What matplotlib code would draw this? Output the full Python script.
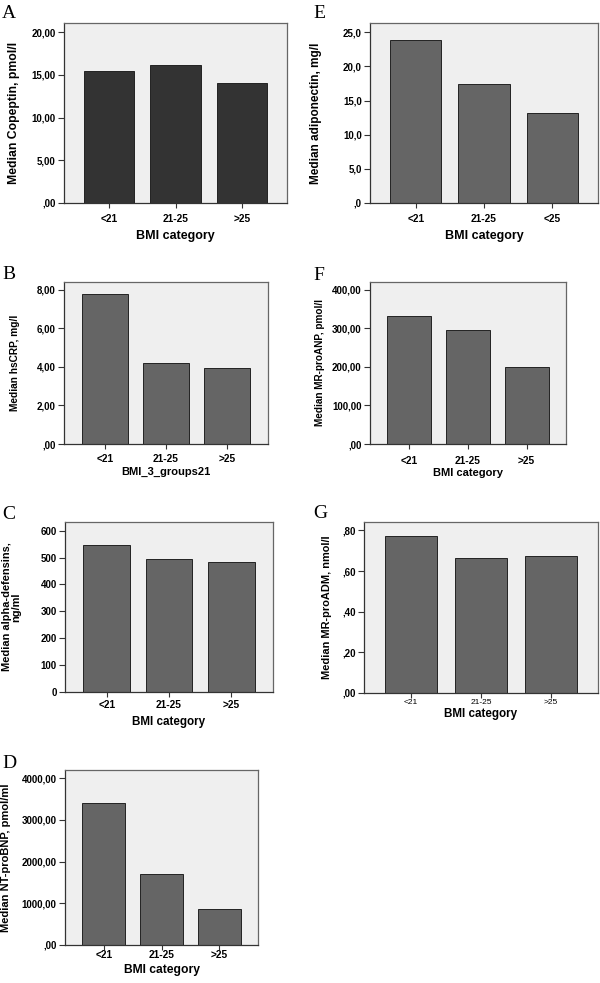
import matplotlib
matplotlib.use("Agg")
import matplotlib.pyplot as plt

# ---- data ----
categories = ["<21", "21-25", ">25"]
categories_E = ["<21", "21-25", "<25"]

copeptin = [15.5, 16.2, 14.1]
adiponectin = [23.8, 17.4, 13.15]
hscrp = [7.8, 4.22, 3.93]
mr_proanp = [331, 295, 200]
alpha_defensins = [547, 494, 484]
mr_proadm = [0.773, 0.665, 0.672]
nt_probnp = [3405, 1705, 855]

ticks_A = [0, 5, 10, 15, 20]
labels_A = [",00", "5,00", "10,00", "15,00", "20,00"]
ticks_E = [0, 5, 10, 15, 20, 25]
labels_E = [",0", "5,0", "10,0", "15,0", "20,0", "25,0"]
ticks_B = [0, 2, 4, 6, 8]
labels_B = [",00", "2,00", "4,00", "6,00", "8,00"]
ticks_F = [0, 100, 200, 300, 400]
labels_F = [",00", "100,00", "200,00", "300,00", "400,00"]
ticks_C = [0, 100, 200, 300, 400, 500, 600]
labels_C = ["0", "100", "200", "300", "400", "500", "600"]
ticks_G = [0, 0.2, 0.4, 0.6, 0.8]
labels_G = [",00", ",20", ",40", ",60", ",80"]
ticks_D = [0, 1000, 2000, 3000, 4000]
labels_D = [",00", "1000,00", "2000,00", "3000,00", "4000,00"]

W, H = 600, 983
fig = plt.figure(figsize=(W / 100, H / 100), dpi=100)

SANS = ["Liberation Sans", "DejaVu Sans"]
SERIF = ["Liberation Serif", "DejaVu Serif"]
PX = 0.72  # points per pixel at 100 dpi


def panel(box, letter, letter_xy, values, cats, ticks, tlabels, ytop, ylabel,
          ylab_right, ylab_fs, xlabel, xlab_top, xlab_fs, tick_top, color,
          xtick_small=False):
    l, t, r, b = box
    ax = fig.add_axes([l / W, 1 - b / H, (r - l) / W, (b - t) / H])
    ax.set_facecolor("#efefef")
    x = list(range(len(values)))
    ax.bar(x, values, width=0.75, color=color, edgecolor="#222222", linewidth=0.7, zorder=2)
    ax.set_xlim(-0.67, len(values) - 1 + 0.67)
    ax.set_ylim(0, ytop)
    ax.set_yticks(ticks)
    ax.set_yticklabels(tlabels, fontsize=7, fontweight="bold", family=SANS)
    ax.set_xticks(x)
    if xtick_small:
        ax.set_xticklabels(cats, fontsize=6, family=SANS)
    else:
        ax.set_xticklabels(cats, fontsize=7.3, fontweight="bold", family=SANS)
    ax.tick_params(axis="y", length=4, width=0.8, color="#333333", pad=2)
    xpad = max(0.0, (tick_top - b - 5 - 1.5) * PX)
    ax.tick_params(axis="x", length=5 * PX, width=0.8, color="#333333", pad=xpad)
    for s in ax.spines.values():
        s.set_color("#666666")
        s.set_linewidth(0.9)
    ax.spines["left"].set_color("#333333")
    ax.spines["bottom"].set_color("#333333")
    ax.set_ylabel(ylabel, fontsize=ylab_fs, fontweight="bold", family=SANS, linespacing=0.95)
    ax.yaxis.set_label_coords((ylab_right - l) / (r - l), 0.5)
    ax.set_xlabel(xlabel, fontsize=xlab_fs, fontweight="bold", family=SANS)
    ax.xaxis.set_label_coords(0.5, (b - (xlab_top - 1.5)) / (b - t))
    fig.text(letter_xy[0] / W, 1 - letter_xy[1] / H, letter, fontsize=14,
             family=SERIF, ha="left", va="baseline")
    return ax


DARK = "#333333"
MID = "#656565"

panel((64, 23, 287, 203), "A", (2, 18), copeptin, categories, ticks_A, labels_A,
      21.09, "Median Copeptin, pmol/l", 20, 8.8, "BMI category", 232, 9, 215, DARK)
panel((370, 23, 598, 203), "E", (313, 18), adiponectin, categories_E, ticks_E, labels_E,
      26.36, "Median adiponectin, mg/l", 321.5, 8.5, "BMI category", 232, 9, 215, MID)
panel((64, 282, 268, 444), "B", (2, 279), hscrp, categories, ticks_B, labels_B,
      8.4, "Median hsCRP, mg/l", 20.5, 7.3, "BMI_3_groups21", 468, 8, 455, MID)
panel((370, 282, 566, 444), "F", (313, 280), mr_proanp, categories, ticks_F, labels_F,
      420, "Median MR-proANP, pmol/l", 325, 7.2, "BMI category", 470, 8, 457, MID)
panel((65, 522, 273, 692), "C", (2, 519), alpha_defensins, categories, ticks_C, labels_C,
      632, "Median alpha-defensins,\nng/ml", 21.5, 7.9, "BMI category", 717, 8.4, 702, MID)
panel((364, 522, 598, 693), "G", (313, 518), mr_proadm, categories, ticks_G, labels_G,
      0.841, "Median MR-proADM, nmol/l", 331.5, 7.9, "BMI category", 710, 8.4, 701, MID,
      xtick_small=True)
panel((65, 770, 258, 945), "D", (2, 768), nt_probnp, categories, ticks_D, labels_D,
      4199, "Median NT-proBNP, pmol/ml", 11, 8.0, "BMI category", 965, 8.7, 951, MID)

fig.savefig("out.png", dpi=100, facecolor="white")
